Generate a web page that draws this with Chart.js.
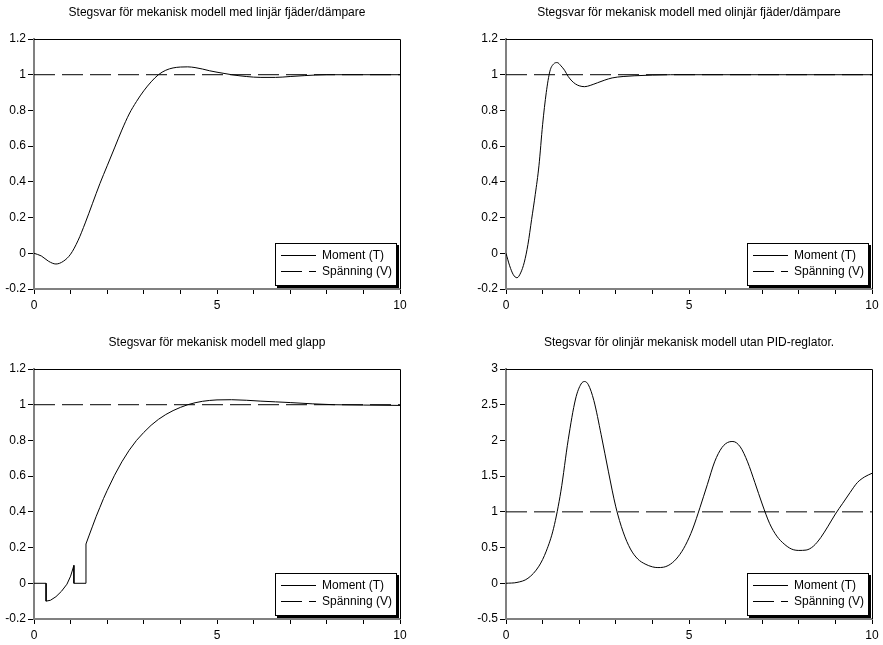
<!DOCTYPE html>
<html><head><meta charset="utf-8">
<script src="https://cdn.jsdelivr.net/npm/chart.js@4/dist/chart.umd.min.js"></script>
<style>
html,body{margin:0;padding:0;background:#fff;}
body{width:883px;height:645px;position:relative;overflow:hidden;}
canvas{position:absolute;}
</style></head><body>
<canvas id="c1" width="440" height="315" style="left:0;top:0"></canvas>
<canvas id="c2" width="443" height="315" style="left:440px;top:0"></canvas>
<canvas id="c3" width="440" height="315" style="left:0;top:330px"></canvas>
<canvas id="c4" width="443" height="315" style="left:440px;top:330px"></canvas>
<script>
// ---- data ----
const titles = [
  'Stegsvar för mekanisk modell med linjär fjäder/dämpare',
  'Stegsvar för mekanisk modell med olinjär fjäder/dämpare',
  'Stegsvar för mekanisk modell med glapp',
  'Stegsvar för olinjär mekanisk modell utan PID-reglator.'
];
const seriesLabels = ['Moment (T)', 'Spänning (V)'];
const xTickLabels = ['0', '5', '10'];

const t1 = [0,0.2,0.4,0.6,0.8,1.0,1.2,1.4,1.6,1.8,2.0,2.2,2.4,2.6,2.8,3.0,3.2,3.4,3.6,3.8,4.0,4.2,4.4,4.6,4.8,5.0,5.4,5.8,6.2,6.6,7.0,7.4,8.0,10];
const m1 = [0,-0.015,-0.045,-0.06,-0.045,-0.005,0.07,0.17,0.28,0.39,0.49,0.59,0.69,0.78,0.85,0.91,0.96,1.0,1.025,1.038,1.043,1.044,1.04,1.032,1.022,1.014,1.0,0.99,0.985,0.985,0.99,0.995,1.0,1.0];

const t2 = [0,0.1,0.2,0.3,0.4,0.5,0.6,0.7,0.8,0.9,1.0,1.1,1.2,1.3,1.4,1.5,1.6,1.7,1.8,1.9,2.0,2.15,2.3,2.5,2.7,2.9,3.2,3.5,4.0,4.5,10];
const m2 = [0,-0.07,-0.12,-0.137,-0.11,-0.05,0.05,0.19,0.33,0.49,0.72,0.9,1.02,1.06,1.068,1.05,1.025,0.99,0.965,0.948,0.938,0.933,0.94,0.955,0.97,0.982,0.99,0.994,0.998,1.0,1.0];

const t3 = [0,0.33,0.33,0.45,0.6,0.75,0.9,1.0,1.09,1.09,1.42,1.42,1.5,1.6,1.7,1.8,1.9,2.0,2.2,2.4,2.6,2.8,3.0,3.2,3.4,3.6,3.8,4.0,4.2,4.4,4.6,4.8,5.0,5.4,5.8,6.2,6.6,7.0,7.6,8.2,9.0,10];
const m3 = [0,0,-0.1,-0.095,-0.075,-0.045,-0.005,0.04,0.1,0,0,0.22,0.265,0.32,0.375,0.425,0.475,0.52,0.605,0.68,0.745,0.8,0.845,0.885,0.918,0.945,0.967,0.985,1.0,1.011,1.019,1.024,1.027,1.028,1.025,1.02,1.016,1.012,1.005,1.0,0.998,0.996];

const t4 = [0,0.3,0.6,0.9,1.1,1.3,1.5,1.7,1.9,2.05,2.15,2.25,2.4,2.6,2.8,3.0,3.2,3.4,3.6,3.8,4.0,4.15,4.3,4.5,4.7,4.9,5.1,5.3,5.5,5.7,5.9,6.1,6.2,6.4,6.6,6.8,7.0,7.2,7.4,7.6,7.8,8.0,8.2,8.4,8.6,8.8,9.0,9.2,9.4,9.6,9.8,10];
const m4 = [0,0.012,0.07,0.24,0.45,0.77,1.29,2.01,2.58,2.79,2.825,2.78,2.56,2.08,1.56,1.07,0.72,0.48,0.34,0.27,0.23,0.22,0.225,0.27,0.37,0.53,0.76,1.06,1.38,1.7,1.9,1.98,1.985,1.91,1.7,1.41,1.11,0.84,0.66,0.55,0.48,0.46,0.465,0.52,0.64,0.8,0.97,1.12,1.27,1.41,1.49,1.54];

const spanT = [0, 10];
const spanV = [1, 1];

// ---- chart setup ----
const FONT = 'Liberation Sans';
const FS = 12;
Chart.defaults.font.family = FONT;
Chart.defaults.font.size = FS;
Chart.defaults.color = '#000';

const framePlugin = {
  id: 'frame',
  afterDatasetsDraw(chart) {
    const {ctx, chartArea: a} = chart;
    ctx.save();
    ctx.strokeStyle = '#000';
    ctx.lineWidth = 1;
    ctx.beginPath();
    ctx.moveTo(a.left, Math.round(a.top) + 0.5);
    ctx.lineTo(Math.round(a.right) + 0.5, Math.round(a.top) + 0.5);
    ctx.lineTo(Math.round(a.right) + 0.5, a.bottom);
    ctx.stroke();
    ctx.restore();
  }
};

const boxLegend = {
  id: 'boxLegend',
  afterDraw(chart) {
    const {ctx, chartArea: a} = chart;
    const w = 122, h = 43;
    const x = Math.round(a.right - 125), y = Math.round(a.bottom - 46.5);
    ctx.save();
    ctx.fillStyle = '#000';
    ctx.fillRect(x + 2, y + 2, w, h);
    ctx.fillStyle = '#fff';
    ctx.fillRect(x, y, w, h);
    ctx.strokeStyle = '#000';
    ctx.lineWidth = 1;
    ctx.strokeRect(x + 0.5, y + 0.5, w - 1, h - 1);
    chart.data.datasets.forEach((ds, i) => {
      const ly = y + 12.5 + i * 16;
      ctx.setLineDash(ds.borderDash || []);
      ctx.beginPath();
      ctx.moveTo(x + 6, ly);
      ctx.lineTo(x + 41, ly);
      ctx.stroke();
      ctx.setLineDash([]);
      ctx.fillStyle = '#000';
      ctx.font = FS + 'px "' + FONT + '"';
      ctx.textBaseline = 'middle';
      ctx.textAlign = 'left';
      ctx.fillText(ds.label, x + 47, ly);
    });
    ctx.restore();
  }
};

function pts(xs, ys) { return xs.map((x, i) => ({x, y: ys[i]})); }
function fmt(v) { const r = Math.round(v * 100) / 100; return String(r === 0 ? 0 : r); }

function makePanel(id, title, xs, ys, yMin, yMax, yStep, yW, padR, smooth) {
  const moment = {
    label: seriesLabels[0], data: pts(xs, ys),
    borderColor: '#000', borderWidth: 1, pointRadius: 0, fill: false
  };
  if (smooth) moment.cubicInterpolationMode = 'monotone'; else moment.tension = 0;
  new Chart(document.getElementById(id), {
    type: 'line',
    data: {
      datasets: [
        moment,
        { label: seriesLabels[1], data: pts(spanT, spanV), borderColor: '#000', borderWidth: 1,
          borderDash: [21, 7], pointRadius: 0, fill: false, tension: 0 }
      ]
    },
    options: {
      responsive: false, animation: false, devicePixelRatio: 1,
      layout: { padding: { left: 0, right: padR, top: 0, bottom: 0 } },
      plugins: {
        legend: { display: false }, tooltip: { enabled: false },
        title: { display: true, text: title, fullSize: false, color: '#000',
                 font: { family: FONT, size: FS, weight: 'normal', lineHeight: 1.2 },
                 padding: { top: 5.8, bottom: 18.8 } }
      },
      scales: {
        x: {
          type: 'linear', min: 0, max: 10,
          ticks: { stepSize: 1, autoSkip: false, maxRotation: 0, padding: 4, color: '#000',
                   callback: v => xTickLabels.includes(fmt(v)) ? fmt(v) : '' },
          grid: { drawOnChartArea: false, drawTicks: true, tickLength: 5, color: '#000' },
          border: { color: '#808080', width: 2 },
          afterFit: s => { s.height = 26; }
        },
        y: {
          type: 'linear', min: yMin, max: yMax,
          ticks: { stepSize: yStep, padding: 2, color: '#000', callback: v => fmt(v) },
          grid: { drawOnChartArea: false, drawTicks: true, tickLength: 6, color: '#000' },
          border: { color: '#808080', width: 2 },
          afterFit: s => { s.width = yW; }
        }
      }
    },
    plugins: [framePlugin, boxLegend]
  });
}

makePanel('c1', titles[0], t1, m1, -0.2, 1.2, 0.2, 34, 40, true);
makePanel('c2', titles[1], t2, m2, -0.2, 1.2, 0.2, 66, 11, true);
makePanel('c3', titles[2], t3, m3, -0.2, 1.2, 0.2, 34, 40, false);
makePanel('c4', titles[3], t4, m4, -0.5, 3, 0.5, 66, 11, true);
</script>
</body></html>
